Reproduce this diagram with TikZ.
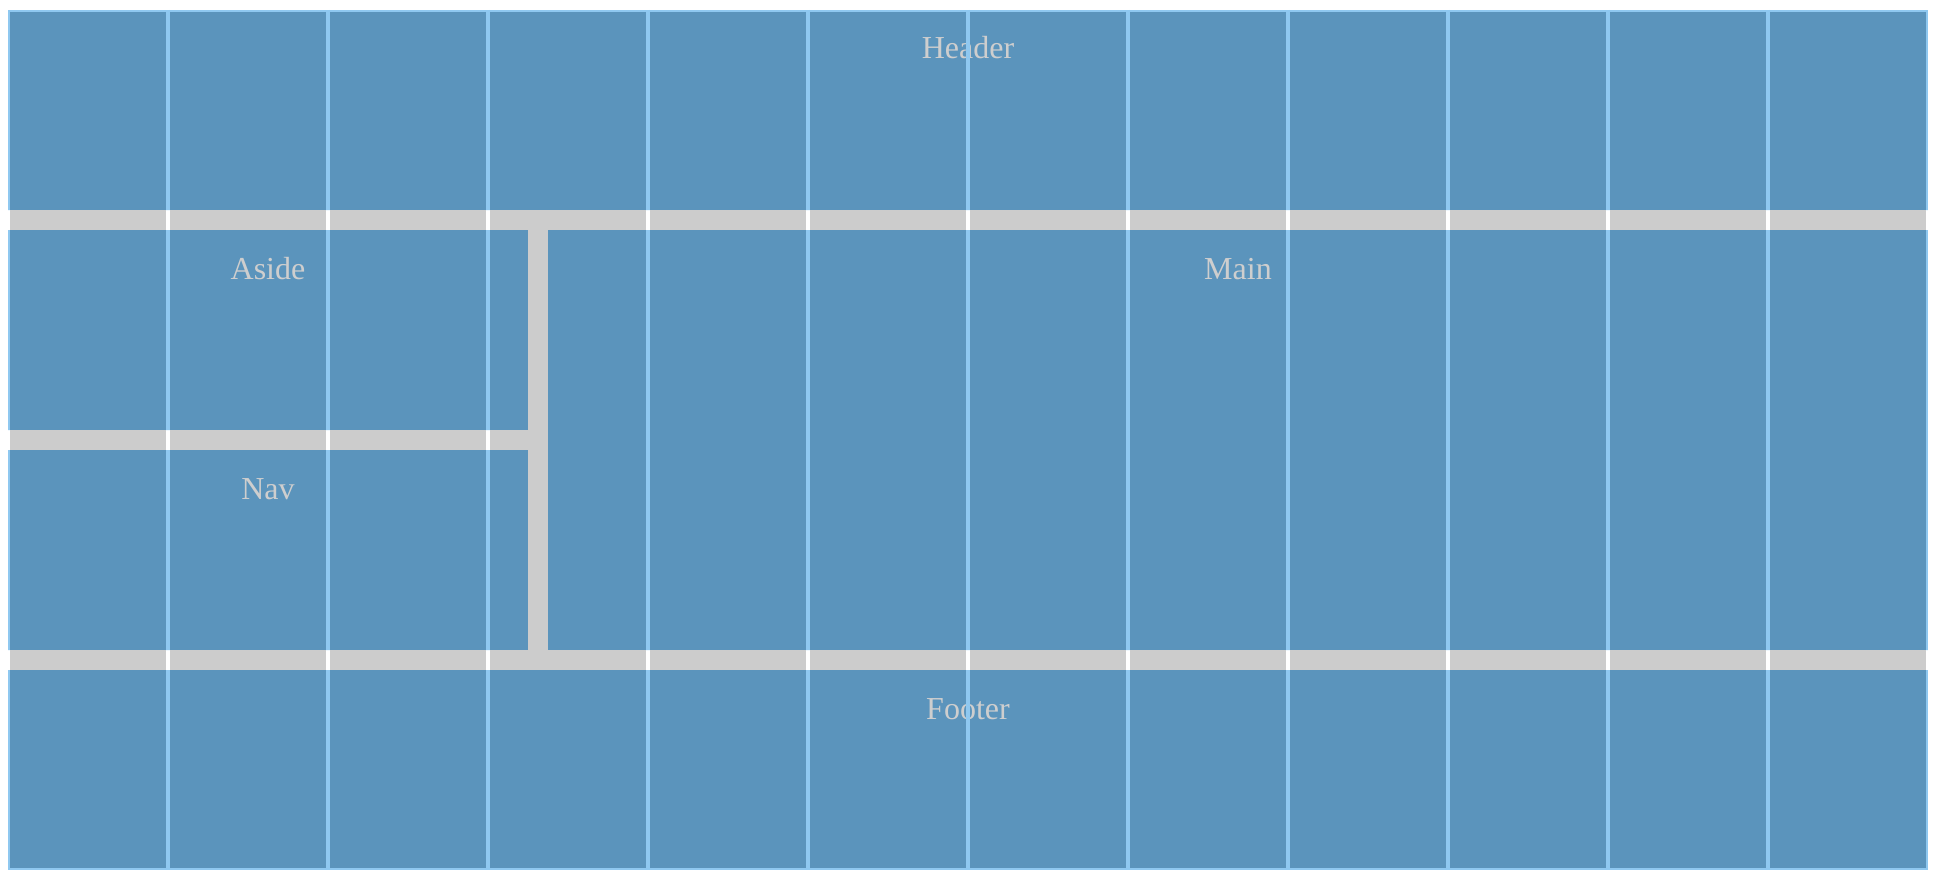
\documentclass[tikz,border=0pt]{standalone}
\usepackage{fontspec}
\setmainfont{Liberation Serif}
\definecolor{boxblue}{RGB}{91,148,188}
\definecolor{gapgray}{RGB}{204,204,204}
\definecolor{lineblue}{RGB}{143,200,240}
\definecolor{textgray}{RGB}{206,206,206}
\tikzset{
  area/.style={fill=boxblue, draw=none},
  lbl/.style={anchor=base, text=textgray, inner sep=0pt, font=\fontsize{32}{38}\selectfont},
}
\begin{document}
\begin{tikzpicture}[x=1pt,y=-1pt]
\useasboundingbox (0,0) rectangle (1940,880);
% gaps background
\fill[gapgray] (8,10) rectangle (1928,870);
% areas
\fill[area] (8,10) rectangle (1928,210);
\fill[area] (8,230) rectangle (528,430);
\fill[area] (8,450) rectangle (528,650);
\fill[area] (548,230) rectangle (1928,650);
\fill[area] (8,670) rectangle (1928,870);
% labels
\node[lbl] (header) at (968,59) {Header};
\node[lbl] (aside) at (268,279) {Aside};
\node[lbl] (nav) at (268,499) {Nav};
\node[lbl] (main) at (1238,279) {Main};
\node[lbl] (footer) at (968,719) {Footer};
% grid overlay: white over gaps
\foreach \k in {0,...,10}{
  \draw[white, line width=4pt] ({168+160*\k},10) -- ({168+160*\k},870);
}
\draw[white, line width=2pt] (9,11) rectangle (1927,869);
% grid overlay: light blue over areas
\begin{scope}
\clip (8,10) rectangle (1928,210)
      (8,230) rectangle (528,430)
      (8,450) rectangle (528,650)
      (548,230) rectangle (1928,650)
      (8,670) rectangle (1928,870);
\foreach \k in {0,...,10}{
  \draw[lineblue, line width=4pt] ({168+160*\k},10) -- ({168+160*\k},870);
}
\draw[lineblue, line width=2pt] (9,11) rectangle (1927,869);
\end{scope}
\end{tikzpicture}
\end{document}
